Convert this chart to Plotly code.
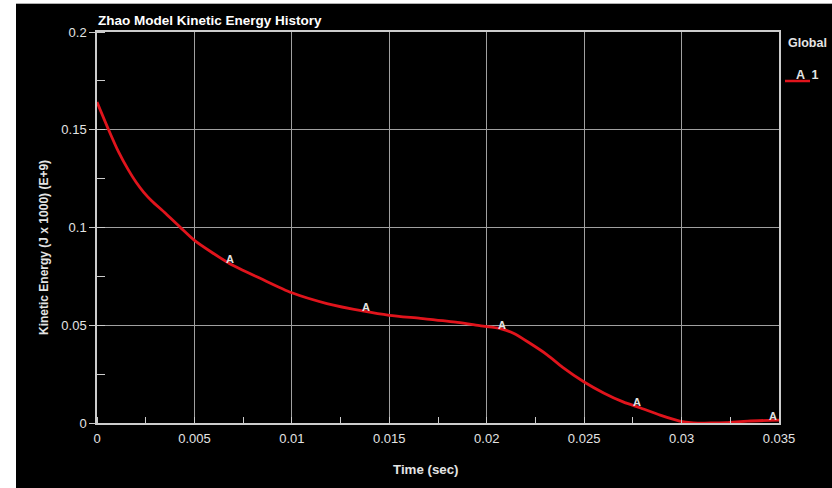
import plotly.graph_objects as go

# ---- data ----
time_s = [0, 0.0006, 0.0011, 0.0016, 0.0020, 0.0024, 0.0028, 0.0035, 0.0043, 0.005, 0.0068,
          0.0084, 0.010, 0.0118, 0.0137, 0.015, 0.0166, 0.0185, 0.0197, 0.0207, 0.0214,
          0.0222, 0.0231, 0.0239, 0.025, 0.026, 0.027, 0.0279, 0.0289, 0.0299, 0.0306,
          0.0315, 0.0323, 0.0334, 0.035]
kinetic = [0.1642, 0.1499, 0.1388, 0.1296, 0.1233, 0.1180, 0.1137, 0.1074, 0.0998, 0.0934, 0.0816,
           0.0739, 0.0666, 0.0611, 0.0572, 0.0551, 0.0535, 0.0515, 0.0497, 0.0483, 0.0458,
           0.0409, 0.0349, 0.0285, 0.0210, 0.0154, 0.0108, 0.0077, 0.0040, 0.0010, 0.0001,
           0.0000, 0.0002, 0.0010, 0.0015]
marker_t = [0.0068, 0.0138, 0.0208, 0.0277, 0.0347]
marker_v = [0.0816, 0.0571, 0.0480, 0.0085, 0.0015]
x_ticks = [0, 0.005, 0.01, 0.015, 0.02, 0.025, 0.03, 0.035]
x_tick_text = ["0", "0.005", "0.01", "0.015", "0.02", "0.025", "0.03", "0.035"]
y_ticks = [0, 0.05, 0.1, 0.15, 0.2]
y_tick_text = ["0", "0.05", "0.1", "0.15", "0.2"]

W, H = 832, 488
L, R, T, B = 97, 53, 32, 65
PW, PH = W - L - R, H - T - B

def px(x):
    return (x - L) / PW

def py(y):
    return (H - B - y) / PH

FONT = "Liberation Sans, Arial, sans-serif"
RED = "#e0141c"
GRID = "#a0a0a0"
TXT = "#e4e4e4"

fig = go.Figure()
fig.add_trace(go.Scatter(x=time_s, y=kinetic, mode="lines",
                         line=dict(color=RED, width=2.8, shape="spline", smoothing=0.7),
                         showlegend=False, hoverinfo="skip"))

annotations = []
for t, v in zip(marker_t, marker_v):
    annotations.append(dict(x=t, y=v, xref="x", yref="y", text="<b>A</b>", showarrow=False,
                            yshift=4, font=dict(family=FONT, size=11, color=TXT)))

annotations += [
    dict(x=px(96), y=py(20.5), xref="paper", yref="paper", text="<b>Zhao Model Kinetic Energy History</b>",
         showarrow=False, xanchor="left", yanchor="middle", font=dict(family=FONT, size=13.5, color="white")),
    dict(x=px(426), y=py(469), xref="paper", yref="paper", text="<b>Time (sec)</b>",
         showarrow=False, xanchor="center", yanchor="middle", font=dict(family=FONT, size=13.3, color=TXT)),
    dict(x=px(43.5), y=py(247.5), xref="paper", yref="paper", text="<b>Kinetic Energy (J x 1000) (E+9)</b>",
         showarrow=False, textangle=-90, xanchor="center", yanchor="middle",
         font=dict(family=FONT, size=12, color=TXT)),
    dict(x=px(786), y=py(43), xref="paper", yref="paper", text="<b>Global</b>",
         showarrow=False, xanchor="left", yanchor="middle", font=dict(family=FONT, size=12.5, color=TXT)),
    dict(x=px(794), y=py(75), xref="paper", yref="paper", text="<b>A  1</b>",
         showarrow=False, xanchor="left", yanchor="middle", font=dict(family=FONT, size=12.5, color=TXT)),
]

shapes = [
    # black panel
    dict(type="rect", xref="paper", yref="paper", x0=px(16), x1=px(W + 2), y0=py(4), y1=py(H + 2),
         fillcolor="black", line=dict(width=0), layer="below"),
    dict(type="line", xref="paper", yref="paper", x0=px(16), x1=px(W + 2), y0=py(3.5), y1=py(3.5),
         line=dict(color="#b0b0b0", width=1), layer="below"),
    # legend swatch
    dict(type="line", xref="paper", yref="paper", x0=px(785), x1=px(810), y0=py(81), y1=py(81),
         line=dict(color=RED, width=2.5)),
]

fig.update_layout(
    width=W, height=H,
    margin=dict(l=L, r=R, t=T, b=B, autoexpand=False),
    paper_bgcolor="white", plot_bgcolor="black",
    showlegend=False,
    annotations=annotations, shapes=shapes,
    font=dict(family=FONT, size=13, color=TXT),
)
fig.update_xaxes(range=[0, 0.035], tickvals=x_ticks, ticktext=x_tick_text,
                 showgrid=True, gridcolor=GRID, gridwidth=1, zeroline=False,
                 showline=True, linecolor="#cccccc", linewidth=1.5, mirror=True,
                 ticks="", ticklabelstandoff=3, tickfont=dict(family=FONT, size=13, color=TXT),
                 minor=dict(dtick=0.0025, tick0=0, ticks="inside", ticklen=6, tickcolor="#cccccc", showgrid=False))
fig.update_yaxes(range=[0, 0.2], tickvals=y_ticks, ticktext=y_tick_text,
                 showgrid=True, gridcolor=GRID, gridwidth=1, zeroline=False,
                 showline=True, linecolor="#cccccc", linewidth=1.5, mirror=True,
                 ticks="outside", ticklen=6, tickcolor="#cccccc",
                 tickfont=dict(family=FONT, size=13, color=TXT),
                 minor=dict(dtick=0.025, tick0=0, ticks="inside", ticklen=8, tickcolor="#cccccc", showgrid=False))

fig.write_html("out.html", config={"displayModeBar": False},
               post_script="document.body.style.margin='0px';")
